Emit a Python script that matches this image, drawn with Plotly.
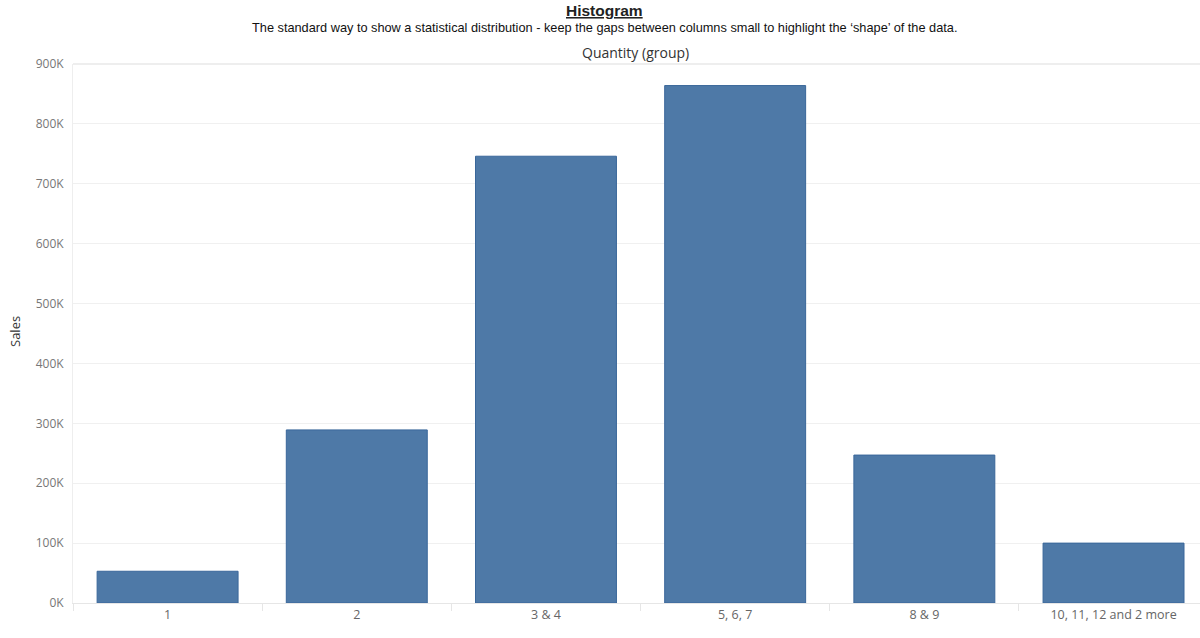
import plotly.graph_objects as go

categories = ["1", "2", "3 & 4", "5, 6, 7", "8 & 9", "10, 11, 12 and 2 more"]
sales = [53000, 289000, 746000, 864000, 247000, 100000]
y_ticks = [0, 100000, 200000, 300000, 400000, 500000, 600000, 700000, 800000, 900000]
y_tick_labels = ["0K", "100K", "200K", "300K", "400K", "500K", "600K", "700K", "800K", "900K"]

fig = go.Figure()
fig.add_trace(go.Bar(
    x=categories, y=sales,
    marker=dict(color="#4e79a7", line=dict(color="#3a679a", width=1)),
    hovertemplate="%{x}: %{y}<extra></extra>",
))

fig.update_layout(
    width=1200, height=638,
    margin=dict(l=73, r=0, t=64, b=35),
    plot_bgcolor="white", paper_bgcolor="white",
    bargap=0.255,
    showlegend=False,
)

fig.update_xaxes(
    range=[-0.5, 5.457],
    showgrid=False,
    ticks="outside", tickson="boundaries", ticklen=7, tickcolor="#e6e6e6",
    showline=True, linecolor="#e6e6e6", linewidth=1,
    tickfont=dict(family="Open Sans", size=12.5, color="#666"),
    fixedrange=True,
)
fig.update_yaxes(
    range=[0, 900000],
    tickvals=y_ticks, ticktext=y_tick_labels,
    showgrid=True, gridcolor="#f0f0f0", gridwidth=1,
    zeroline=False,
    showline=True, linecolor="#eeeeee",
    ticks="", ticklabelstandoff=6,
    tickfont=dict(family="Open Sans", size=12, color="#777"),
    fixedrange=True,
)

# title, subtitle, top axis header and y-axis title, placed in pixels
def py(pix):
    return 1 + (64 - pix) / 539

def px(pix):
    return (pix - 73) / 1127

fig.add_annotation(
    text="<b><u>Histogram</u></b>",
    xref="paper", yref="paper", x=px(604), y=py(11),
    showarrow=False, xanchor="center", yanchor="middle",
    font=dict(family="Liberation Sans, Arial", size=15.5, color="#222"),
)
fig.add_annotation(
    text="The standard way to show a statistical distribution - keep the gaps between columns small to highlight the \u2018shape\u2019 of the data.",
    xref="paper", yref="paper", x=px(604), y=py(27),
    showarrow=False, xanchor="center", yanchor="middle",
    font=dict(family="Liberation Sans, Arial", size=12.75, color="#111"),
)
fig.add_annotation(
    text="Quantity (group)",
    xref="paper", yref="paper", x=px(635), y=py(52),
    showarrow=False, xanchor="center", yanchor="middle",
    font=dict(family="Open Sans", size=14, color="#333"),
)
fig.add_annotation(
    text="Sales",
    xref="paper", yref="paper", x=px(15), y=1 - (332 - 64) / 539,
    showarrow=False, xanchor="center", yanchor="middle", textangle=-90,
    font=dict(family="Open Sans", size=13, color="#333"),
)
fig.add_shape(
    type="line", xref="paper", yref="paper", x0=0, x1=1, y0=1, y1=1,
    line=dict(color="#eeeeee", width=2),
)

fig.write_html(
    "out.html",
    config={"displayModeBar": False},
    post_script="document.body.style.margin='0';",
)
